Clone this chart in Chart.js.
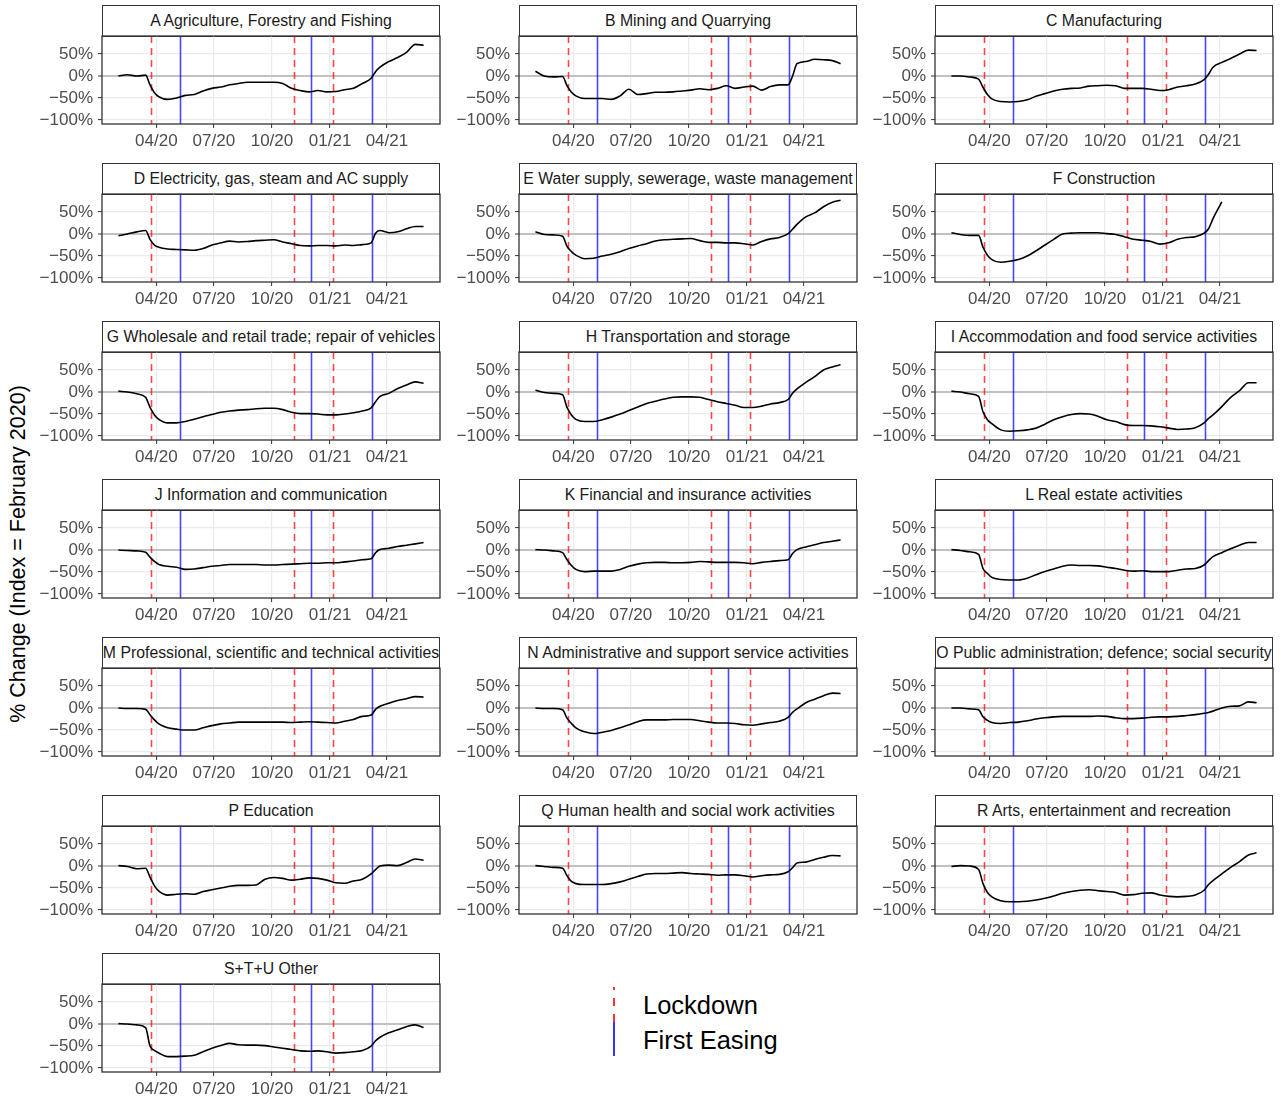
<!DOCTYPE html>
<html>
<head>
<meta charset="utf-8">
<script src="https://cdn.jsdelivr.net/npm/chart.js@4/dist/chart.umd.min.js"></script>
<style>
  body { margin: 0; background: #fff; width: 1280px; height: 1100px; position: relative; overflow: hidden;
         font-family: "Liberation Sans", Arial, sans-serif; }
  .strip { position: absolute; box-sizing: border-box; border: 1.2px solid #333; background: #fff; color: #1a1a1a;
           font-size: 15.8px; display: flex; align-items: center; justify-content: center; white-space: nowrap; }
  canvas { position: absolute; }
  .ytitle { position: absolute; width: 400px; height: 26px; line-height: 26px; text-align: center; font-size: 21.5px;
            color: #000; transform: rotate(-90deg); }
  .legtext { position: absolute; font-size: 25.5px; color: #000; line-height: 30px; }
</style>
</head>
<body>
<div class="ytitle" style="left:-182px; top:541px;">% Change (Index = February 2020)</div>
<svg style="position:absolute; left:604px; top:984px;" width="20" height="76">
  <line x1="10" y1="3" x2="10" y2="38" stroke="rgba(255,0,0,0.8)" stroke-width="2" stroke-dasharray="8,8" stroke-dashoffset="5"/>
  <line x1="10" y1="38" x2="10" y2="72" stroke="rgba(0,0,255,0.8)" stroke-width="2"/>
</svg>
<div class="legtext" style="left:643px; top:990px;">Lockdown</div>
<div class="legtext" style="left:643px; top:1025px;">First Easing</div>

<script>
// dates of the (smoothed) weekly index, sampled roughly every two weeks
const dates = ['2020-02-01','2020-02-15','2020-03-01','2020-03-15','2020-03-22','2020-03-29','2020-04-05','2020-04-19',
               '2020-05-03','2020-05-17','2020-05-31','2020-06-14','2020-06-28','2020-07-12','2020-07-26','2020-08-09',
               '2020-08-23','2020-09-06','2020-09-20','2020-10-04','2020-10-18','2020-11-01','2020-11-15','2020-11-29',
               '2020-12-13','2020-12-27','2021-01-10','2021-01-24','2021-02-07','2021-02-21','2021-03-07','2021-03-14',
               '2021-03-21','2021-04-04','2021-04-18','2021-05-02','2021-05-16','2021-05-29'];

const agriculture    = [0,3,0,2,-20,-38,-47,-53,-50,-44,-42,-34,-28,-25,-20,-17,-14,-14,-14,-14,-17,-28,-33,-36,-33,-36,-35,-31,-28,-17,-5,10,20,33,42,54,72,70];
const mining         = [11,0,-2,-1,-22,-37,-45,-51,-51,-51,-53,-45,-30,-42,-40,-37,-37,-36,-34,-32,-29,-31,-28,-22,-28,-25,-23,-32,-24,-20,-20,0,28,33,38,37,35,28];
const manufacturing  = [0,0,-2,-7,-26,-42,-52,-58,-59,-58,-54,-46,-40,-34,-30,-28,-27,-23,-22,-21,-22,-28,-28,-28,-30,-33,-31,-25,-22,-18,-8,4,20,31,40,50,59,58];
const electricity    = [-4,0,5,8,-12,-25,-30,-34,-35,-36,-37,-33,-25,-20,-16,-18,-17,-15,-14,-13,-18,-22,-26,-27,-26,-26,-27,-25,-26,-24,-20,2,8,3,5,12,17,17];
const water          = [5,-1,-2,-5,-28,-40,-48,-56,-55,-50,-46,-40,-33,-27,-22,-16,-13,-12,-11,-10,-15,-19,-19,-20,-20,-22,-25,-17,-11,-8,1,11,22,39,48,62,72,77];
const construction   = [3,-1,-3,-3,-30,-48,-58,-64,-62,-58,-50,-38,-25,-12,0,2,3,3,3,1,-1,-6,-12,-14,-17,-23,-20,-12,-8,-6,2,12,35,73,null,null,null,null];
const wholesale      = [2,0,-4,-12,-35,-52,-62,-70,-70,-67,-62,-56,-51,-46,-43,-41,-40,-38,-37,-37,-40,-46,-49,-49,-50,-52,-52,-50,-47,-43,-36,-22,-10,-3,8,16,23,20];
const transport      = [4,-1,-3,-6,-35,-52,-62,-67,-67,-63,-57,-50,-42,-34,-26,-21,-16,-12,-11,-11,-12,-17,-22,-26,-30,-35,-35,-32,-27,-24,-17,-3,7,22,35,50,57,62];
const accommodation  = [2,0,-4,-10,-45,-63,-72,-86,-89,-88,-86,-82,-73,-63,-56,-51,-49,-50,-55,-63,-67,-74,-76,-76,-77,-79,-82,-85,-84,-81,-70,-60,-52,-33,-12,3,21,21];
const information    = [0,-1,-2,-5,-16,-26,-33,-37,-39,-44,-43,-40,-37,-35,-33,-33,-33,-33,-34,-34,-33,-32,-31,-30,-30,-29,-29,-27,-25,-22,-20,-6,1,4,8,11,14,17];
const financial      = [1,0,-2,-6,-22,-35,-44,-49,-48,-48,-48,-44,-37,-32,-29,-28,-28,-29,-29,-28,-26,-27,-28,-28,-28,-29,-31,-28,-26,-24,-22,-8,1,7,12,17,20,23];
const realEstate     = [1,-1,-4,-10,-42,-53,-62,-67,-68,-68,-64,-56,-49,-43,-37,-34,-35,-35,-36,-39,-42,-46,-48,-47,-49,-49,-49,-46,-43,-42,-34,-24,-15,-6,3,11,17,17];
const professional   = [0,-1,-1,-3,-15,-27,-36,-45,-48,-50,-50,-45,-40,-36,-34,-32,-32,-32,-32,-32,-32,-33,-32,-31,-32,-33,-34,-30,-26,-19,-16,-3,4,11,17,21,26,25];
const administrative = [0,-1,-1,-4,-23,-35,-45,-54,-58,-55,-51,-45,-38,-31,-27,-27,-27,-26,-26,-26,-29,-32,-34,-34,-35,-38,-39,-36,-33,-30,-21,-10,-2,12,20,28,34,33];
const publicAdmin    = [0,0,-2,-4,-20,-28,-33,-35,-33,-32,-29,-25,-22,-20,-19,-19,-19,-19,-18,-19,-22,-24,-24,-23,-21,-20,-20,-19,-17,-15,-12,-10,-7,0,4,5,14,12];
const education      = [1,-1,-6,-5,-25,-45,-57,-66,-64,-63,-64,-58,-54,-50,-46,-44,-44,-43,-30,-26,-28,-32,-30,-27,-28,-32,-38,-39,-34,-30,-18,-8,0,2,1,8,16,13];
const health         = [1,-1,-3,-5,-22,-35,-40,-42,-42,-42,-40,-36,-30,-24,-18,-17,-17,-16,-15,-17,-18,-19,-21,-20,-20,-22,-25,-22,-20,-19,-13,-4,7,9,15,20,24,23];
const arts           = [-1,1,0,-8,-40,-60,-70,-79,-81,-81,-80,-77,-73,-68,-62,-58,-55,-54,-56,-58,-60,-66,-65,-62,-61,-66,-69,-70,-69,-66,-55,-42,-33,-18,-3,10,25,30];
const other          = [1,0,-2,-8,-50,-60,-66,-74,-74,-73,-71,-63,-55,-49,-44,-47,-48,-48,-49,-52,-55,-58,-61,-62,-61,-63,-66,-65,-63,-60,-50,-38,-30,-20,-13,-6,-2,-8];

const sectorNames = ['A Agriculture, Forestry and Fishing', 'B Mining and Quarrying', 'C Manufacturing',
                     'D Electricity, gas, steam and AC supply', 'E Water supply, sewerage, waste management', 'F Construction',
                     'G Wholesale and retail trade; repair of vehicles', 'H Transportation and storage', 'I Accommodation and food service activities',
                     'J Information and communication', 'K Financial and insurance activities', 'L Real estate activities',
                     'M Professional, scientific and technical activities', 'N Administrative and support service activities', 'O Public administration; defence; social security',
                     'P Education', 'Q Human health and social work activities', 'R Arts, entertainment and recreation',
                     'S+T+U Other'];
const sectorValues = [agriculture, mining, manufacturing, electricity, water, construction, wholesale, transport, accommodation,
                      information, financial, realEstate, professional, administrative, publicAdmin, education, health, arts, other];

const lockdownDates = ['2020-03-23', '2020-11-05', '2021-01-05'];
const easingDates   = ['2020-05-08', '2020-12-02', '2021-03-08'];

const xTickDates  = ['2020-04-01', '2020-07-01', '2020-10-01', '2021-01-01', '2021-04-01'];
const xTickLabels = ['04/20', '07/20', '10/20', '01/21', '04/21'];
const yTicks = [-100, -50, 0, 50];

// days since 1 Jan 2020 (no date adapter, so the x axis is linear in days)
function dayNum(s) {
    const p = s.split('-').map(Number);
    return Math.round((Date.UTC(p[0], p[1] - 1, p[2]) - Date.UTC(2020, 0, 1)) / 86400000);
}

const xDays = dates.map(dayNum);
const xTickDays = xTickDates.map(dayNum);

const colLeft = [102, 519, 935];
const plotW = 338, plotH = 88;
const rowStep = 158;

const panelDeco = {
    id: 'panelDeco',
    beforeDatasetsDraw(chart) {
        const ctx = chart.ctx, a = chart.chartArea, x = chart.scales.x;
        ctx.save();
        ctx.beginPath();
        ctx.rect(a.left, a.top, a.right - a.left, a.bottom - a.top);
        ctx.clip();
        ctx.lineWidth = 1.6;
        ctx.strokeStyle = 'rgba(255,0,0,0.72)';
        ctx.setLineDash([7, 5]);
        lockdownDates.forEach(d => {
            const px = Math.round(x.getPixelForValue(dayNum(d))) + 0.5;
            ctx.beginPath(); ctx.moveTo(px, a.top); ctx.lineTo(px, a.bottom); ctx.stroke();
        });
        ctx.setLineDash([]);
        ctx.strokeStyle = 'rgba(0,0,255,0.72)';
        easingDates.forEach(d => {
            const px = Math.round(x.getPixelForValue(dayNum(d))) + 0.5;
            ctx.beginPath(); ctx.moveTo(px, a.top); ctx.lineTo(px, a.bottom); ctx.stroke();
        });
        ctx.restore();
    },
    afterDraw(chart) {
        const ctx = chart.ctx, a = chart.chartArea;
        ctx.save();
        ctx.strokeStyle = '#333';
        ctx.lineWidth = 1.3;
        ctx.strokeRect(a.left, a.top, a.right - a.left, a.bottom - a.top);
        ctx.restore();
    }
};

function tickFont() {
    return { family: '"Liberation Sans", Arial, sans-serif', size: 17 };
}

function createPanel(i) {
    const row = Math.floor(i / 3), col = i % 3;
    const left = colLeft[col];
    const top = 36 + row * rowStep;

    const strip = document.createElement('div');
    strip.className = 'strip';
    strip.style.left = left + 'px';
    strip.style.top = (top - 31) + 'px';
    strip.style.width = plotW + 'px';
    strip.style.height = '32px';
    strip.textContent = sectorNames[i];
    document.body.appendChild(strip);

    const canvas = document.createElement('canvas');
    canvas.width = 90 + plotW + 6;
    canvas.height = 6 + plotH + 30;
    canvas.style.left = (left - 90) + 'px';
    canvas.style.top = (top - 6) + 'px';
    document.body.appendChild(canvas);

    const vals = sectorValues[i];
    const pts = xDays.map((d, k) => ({ x: d, y: vals[k] }));

    new Chart(canvas.getContext('2d'), {
        type: 'line',
        data: {
            datasets: [{
                data: pts,
                borderColor: '#000',
                borderWidth: 1.6,
                pointRadius: 0,
                cubicInterpolationMode: 'monotone',
                spanGaps: false
            }]
        },
        options: {
            responsive: false,
            animation: false,
            layout: { padding: { top: 6, right: 6, left: 0, bottom: 0 } },
            plugins: { legend: { display: false }, tooltip: { enabled: false } },
            scales: {
                x: {
                    type: 'linear',
                    min: 5,
                    max: 540,
                    afterBuildTicks: s => { s.ticks = xTickDays.map(v => ({ value: v })); },
                    afterFit: s => { s.height = 30; s.paddingLeft = 0; s.paddingRight = 0; },
                    ticks: {
                        autoSkip: false, maxRotation: 0, padding: 3,
                        color: '#4d4d4d', font: tickFont(),
                        callback: v => xTickLabels[xTickDays.indexOf(v)]
                    },
                    grid: { color: '#ebebeb', lineWidth: 1.2, tickLength: 4, tickColor: '#333', tickWidth: 1 },
                    border: { display: false }
                },
                y: {
                    min: -109,
                    max: 91,
                    afterBuildTicks: s => { s.ticks = yTicks.map(v => ({ value: v })); },
                    afterFit: s => { s.width = 90; s.paddingTop = 0; s.paddingBottom = 0; },
                    ticks: {
                        padding: 5, color: '#4d4d4d', font: tickFont(),
                        callback: v => (v < 0 ? '\u2212' + (-v) : v) + '%'
                    },
                    grid: {
                        color: c => (c.tick && c.tick.value === 0) ? '#c2c2c2' : '#ebebeb',
                        lineWidth: c => (c.tick && c.tick.value === 0) ? 2 : 1.2,
                        tickLength: 4, tickColor: '#333', tickWidth: 1
                    },
                    border: { display: false }
                }
            }
        },
        plugins: [panelDeco]
    });
}

for (let i = 0; i < sectorNames.length; i++) {
    createPanel(i);
}
</script>
</body>
</html>
